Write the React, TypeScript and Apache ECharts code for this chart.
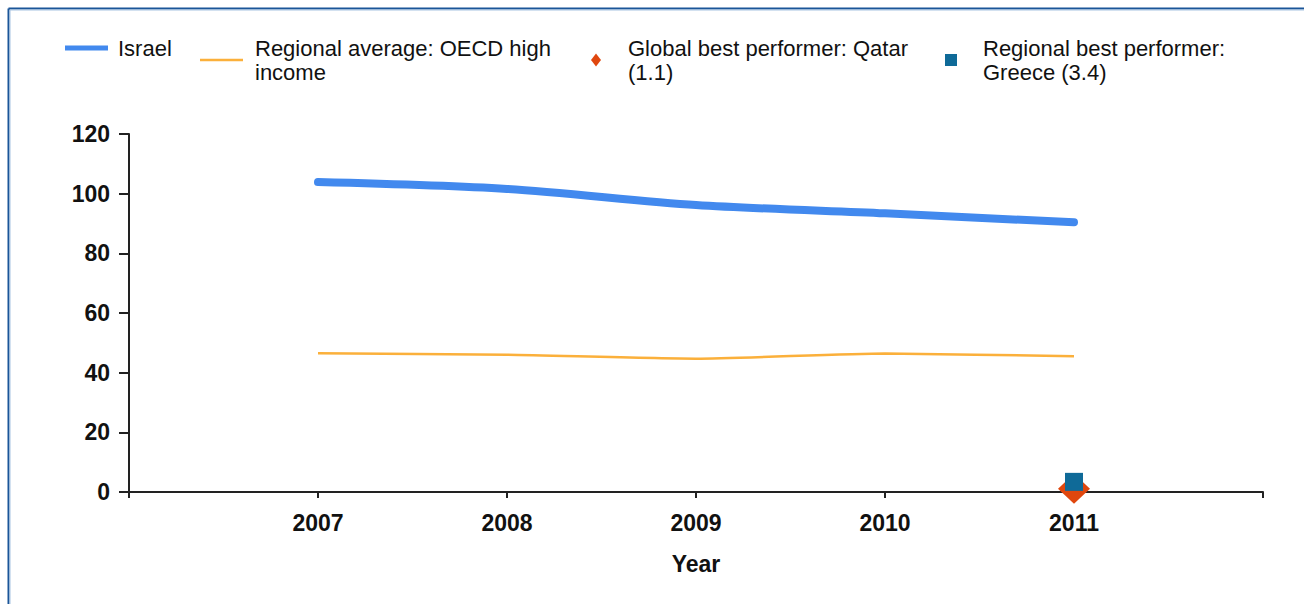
import React, { useEffect, useRef } from "react";
import * as echarts from "echarts";

const years = [2007, 2008, 2009, 2010, 2011];
const israel = [103.9, 101.6, 96.2, 93.4, 90.4];
const oecd = [46.5, 46.0, 44.7, 46.4, 45.5];
const qatarYear = 2011;
const qatarValue = 1.1;
const greeceYear = 2011;
const greeceValue = 3.4;
const yTicks = [0, 20, 40, 60, 80, 100, 120];

const names = [
  "Israel",
  "Regional average: OECD high\nincome",
  "Global best performer: Qatar\n(1.1)",
  "Regional best performer:\nGreece (3.4)",
];

const BLUE = "#4289ee";
const ORANGE = "#fbb03b";
const RED = "#e0470e";
const TEAL = "#0f6a98";
const FONT = "Liberation Sans";

export default function App() {
  const ref = useRef<HTMLDivElement>(null);
  useEffect(() => {
    if (!ref.current) return;
    const chart = echarts.init(ref.current, undefined, { renderer: "svg" });
    const legendText = (pad: number) => ({
      fontFamily: FONT,
      fontSize: 22,
      lineHeight: 24,
      color: "#111",
      padding: [0, 0, 0, pad],
    });
    chart.setOption({
      animation: false,
      backgroundColor: "#fff",
      graphic: [
        { type: "line", shape: { x1: 8.5, y1: 8.5, x2: 1304, y2: 8.5 }, style: { stroke: "#1a5598", lineWidth: 2 } },
        { type: "line", shape: { x1: 8.5, y1: 8.5, x2: 8.5, y2: 604 }, style: { stroke: "#1a5598", lineWidth: 2 } },
        { type: "line", shape: { x1: 10, y1: 10, x2: 1304, y2: 10 }, style: { stroke: "#a8c4e2", lineWidth: 1 } },
        { type: "line", shape: { x1: 10, y1: 10, x2: 10, y2: 604 }, style: { stroke: "#a8c4e2", lineWidth: 1 } },
      ],
      legend: [
        {
          left: 60, top: 31, itemWidth: 43, itemHeight: 5, selectedMode: false,
          data: [{ name: names[0], icon: "rect", itemStyle: { opacity: 1 } }], textStyle: legendText(5),
        },
        {
          left: 195, top: 31, itemWidth: 43, itemHeight: 2.5, selectedMode: false,
          data: [{ name: names[1], icon: "rect", itemStyle: { opacity: 1 } }], textStyle: legendText(7),
        },
        {
          left: 586, top: 31, itemWidth: 10, itemHeight: 13, selectedMode: false,
          data: [{ name: names[2], icon: "diamond", itemStyle: { opacity: 1 } }], textStyle: legendText(22),
        },
        {
          left: 940, top: 31, itemWidth: 12, itemHeight: 12, selectedMode: false,
          data: [{ name: names[3], icon: "rect", itemStyle: { opacity: 1 } }], textStyle: legendText(21),
        },
      ],
      grid: { left: 129, right: 41, top: 134, bottom: 112, containLabel: false },
      xAxis: {
        type: "value",
        min: 2006,
        max: 2012,
        interval: 1,
        name: "Year",
        nameLocation: "middle",
        nameGap: 60,
        nameTextStyle: { fontFamily: FONT, fontWeight: "bold", fontSize: 23, color: "#111" },
        axisLine: { show: true, lineStyle: { color: "#222", width: 2 } },
        axisTick: { show: true, length: 6, lineStyle: { color: "#222", width: 2 } },
        axisLabel: {
          margin: 19,
          fontFamily: FONT,
          fontWeight: "bold",
          fontSize: 23,
          color: "#111",
          formatter: (v: number) => (years.includes(v) ? String(v) : ""),
        },
        splitLine: { show: false },
      },
      yAxis: {
        type: "value",
        min: yTicks[0],
        max: yTicks[yTicks.length - 1],
        interval: 20,
        axisLine: { show: true, lineStyle: { color: "#222", width: 2 } },
        axisTick: { show: true, length: 10, lineStyle: { color: "#222", width: 2 } },
        axisLabel: {
          margin: 19,
          fontFamily: FONT,
          fontWeight: "bold",
          fontSize: 23,
          color: "#111",
        },
        splitLine: { show: false },
      },
      series: [
        {
          name: names[1],
          type: "line",
          data: years.map((y, i) => [y, oecd[i]]),
          smooth: 0.2,
          showSymbol: false,
          lineStyle: { color: ORANGE, width: 2.5 },
          itemStyle: { color: ORANGE },
        },
        {
          name: names[0],
          type: "line",
          data: years.map((y, i) => [y, israel[i]]),
          smooth: 0.3,
          showSymbol: false,
          lineStyle: { color: BLUE, width: 8, cap: "round" },
          itemStyle: { color: BLUE },
        },
        {
          name: names[2],
          type: "scatter",
          clip: false,
          data: [[qatarYear, qatarValue]],
          symbol: "diamond",
          symbolSize: [32, 30],
          itemStyle: { color: RED, opacity: 1 },
          z: 3,
        },
        {
          name: names[3],
          type: "scatter",
          clip: false,
          data: [[greeceYear, greeceValue]],
          symbol: "rect",
          symbolSize: 18,
          itemStyle: { color: TEAL, opacity: 1 },
          z: 4,
        },
      ],
    });
    return () => chart.dispose();
  }, []);
  return (
    <div
      ref={ref}
      style={{ position: "fixed", left: 0, top: 0, width: 1304, height: 604, background: "#fff" }}
    />
  );
}
